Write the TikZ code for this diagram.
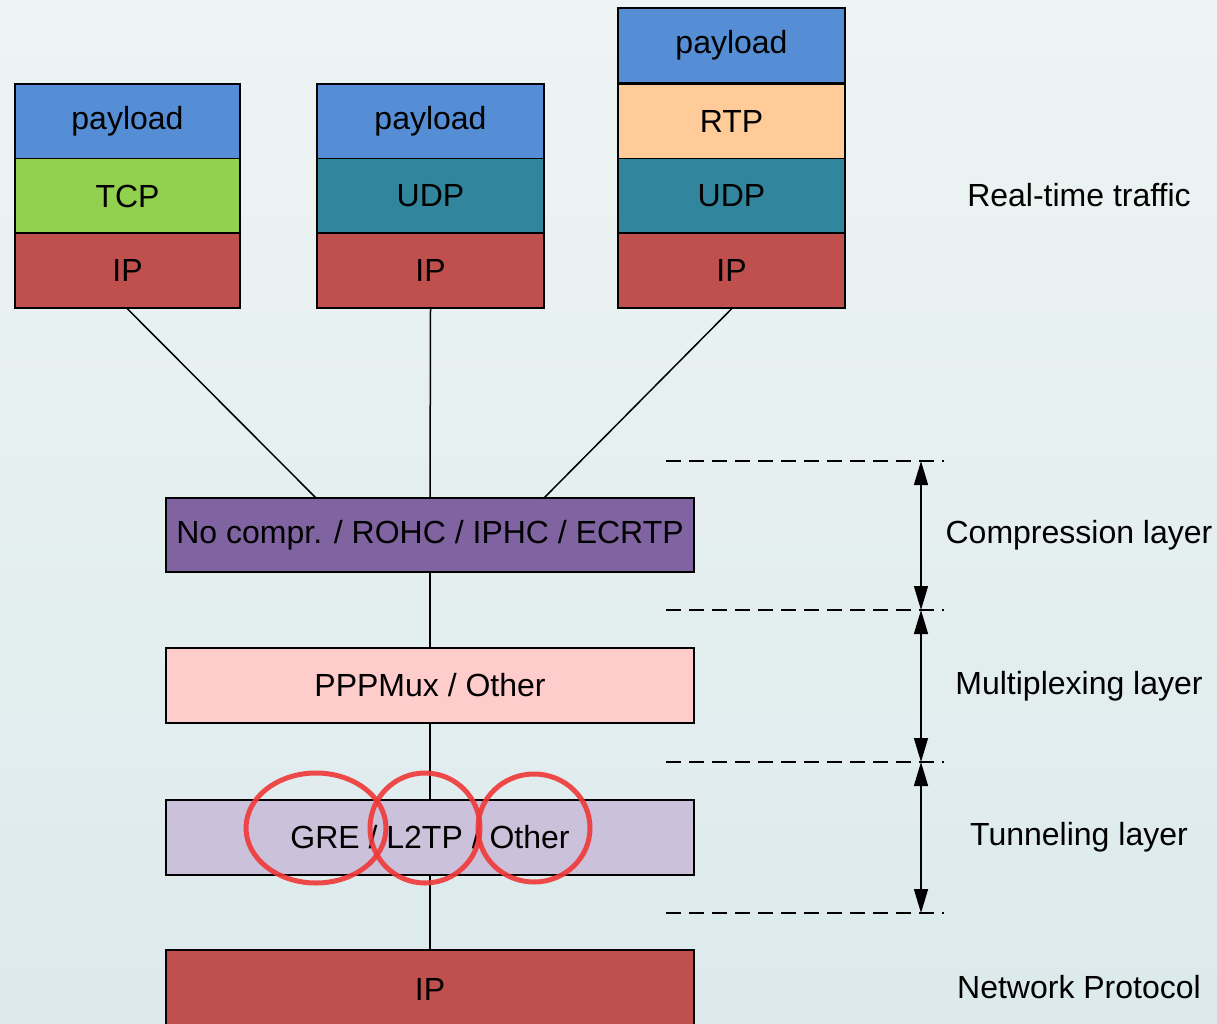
\documentclass[tikz,border=0pt]{standalone}
\usepackage{fontspec}
\setmainfont{Liberation Sans}
\usetikzlibrary{arrows.meta}
\definecolor{bgtop}{HTML}{EEF4F3}
\definecolor{bgbot}{HTML}{DCEAEC}
\definecolor{cpay}{HTML}{558ED5}
\definecolor{ctcp}{HTML}{92D050}
\definecolor{cudp}{HTML}{31859C}
\definecolor{cip}{HTML}{C0504D}
\definecolor{crtp}{HTML}{FFCC99}
\definecolor{ccomp}{HTML}{8064A2}
\definecolor{cmux}{HTML}{FFCCCC}
\definecolor{ctun}{HTML}{CCC1DA}
\definecolor{cring}{HTML}{F03838}
\tikzset{
  lay/.style={draw=black, line width=1.8pt, inner sep=0pt, minimum height=75pt,
    font=\fontsize{32}{37}\selectfont, text=black},
  lw/.style={lay, minimum width=227pt},
  wide/.style={lay, minimum width=528pt},
  lbl/.style={font=\fontsize{32}{37}\selectfont, text=black, inner sep=0pt},
  conn/.style={draw=black, line width=1.5pt},
  sep/.style={draw=black, line width=1.8pt, dash pattern=on 15pt off 8pt},
  dim/.style={draw=black, line width=1.5pt,
    {Triangle[length=24pt,width=14pt]}-{Triangle[length=24pt,width=14pt]}},
  ring/.style={draw=cring, line width=5pt, opacity=0.9}
}
\begin{document}
\begin{tikzpicture}[x=1pt,y=-1pt]
\clip (0,0) rectangle (1217,1024);
\shade[top color=bgtop, bottom color=bgbot] (0,0) rectangle (1217,1024);

% left stack
\node[lw, minimum width=225pt, fill=cpay] (pay1) at (127.5,121.5) {payload};
\node[lw, minimum width=225pt, fill=ctcp] (tcp1) at (127.5,196) {TCP};
\node[lw, minimum width=225pt, fill=cip]  (ip1)  at (127.5,270.5) {IP};
% middle stack
\node[lw, fill=cpay] (pay2) at (430.5,121.5) {payload};
\node[lw, fill=cudp] (udp2) at (430.5,196) {UDP};
\node[lw, fill=cip]  (ip2)  at (430.5,270.5) {IP};
% right stack
\node[lw, fill=cpay] (pay3) at (731.5,45.5) {payload};
\node[lw, fill=crtp] (rtp3) at (731.5,121.5) {RTP};
\node[lw, fill=cudp] (udp3) at (731.5,196) {UDP};
\node[lw, fill=cip]  (ip3)  at (731.5,270.5) {IP};

% layer boxes
\node[wide, minimum height=74pt, fill=ccomp] (comp) at (430,535) {No compr. / ROHC / IPHC / ECRTP};
\node[wide, fill=cmux] (mux) at (430,685.5) {PPPMux / Other};
\node[wide, fill=ctun] (tun) at (430,837.5) {GRE / L2TP / Other};
\node[wide, minimum height=90pt, fill=cip] (ipn) at (430,995) {\raisebox{11pt}{IP}};

% connectors
\coordinate (cin1) at (316,498);
\coordinate (cin3) at (544,498);
\draw[conn] (ip1.south) -- (cin1);
\draw[conn] (ip2.south) -- (comp.north);
\draw[conn] (ip3.south) -- (cin3);
\draw[conn] (comp.south) -- (mux.north);
\draw[conn] (mux.south) -- (tun.north);
\draw[conn] (tun.south) -- (ipn.north);

% red rings
\draw[ring] (316,828) ellipse [x radius=70, y radius=55];
\draw[ring] (425,828) ellipse [x radius=55, y radius=55];
\draw[ring] (534,828) ellipse [x radius=56, y radius=54];

% separators
\coordinate (s1l) at (666,461); \coordinate (s1r) at (944,461);
\coordinate (s2l) at (666,610); \coordinate (s2r) at (944,610);
\coordinate (s3l) at (666,762); \coordinate (s3r) at (944,762);
\coordinate (s4l) at (666,913); \coordinate (s4r) at (944,913);
\draw[sep] (s1l) -- (s1r);
\draw[sep] (s2l) -- (s2r);
\draw[sep] (s3l) -- (s3r);
\draw[sep] (s4l) -- (s4r);
\coordinate (a1) at (921,461);
\coordinate (a2) at (921,610);
\coordinate (a3) at (921,762);
\coordinate (a4) at (921,913);
\draw[dim] (a1) -- (a2);
\draw[dim] (a2) -- (a3);
\draw[dim] (a3) -- (a4);

% labels
\node[lbl] (lrt)  at (1079,195) {Real-time traffic};
\node[lbl] (lcmp) at (1079,535) {Compression layer};
\node[lbl] (lmux) at (1079,686) {Multiplexing layer};
\node[lbl] (ltun) at (1079,837) {Tunneling layer};
\node[lbl] (lnet) at (1079,987) {Network Protocol};
\end{tikzpicture}
\end{document}
